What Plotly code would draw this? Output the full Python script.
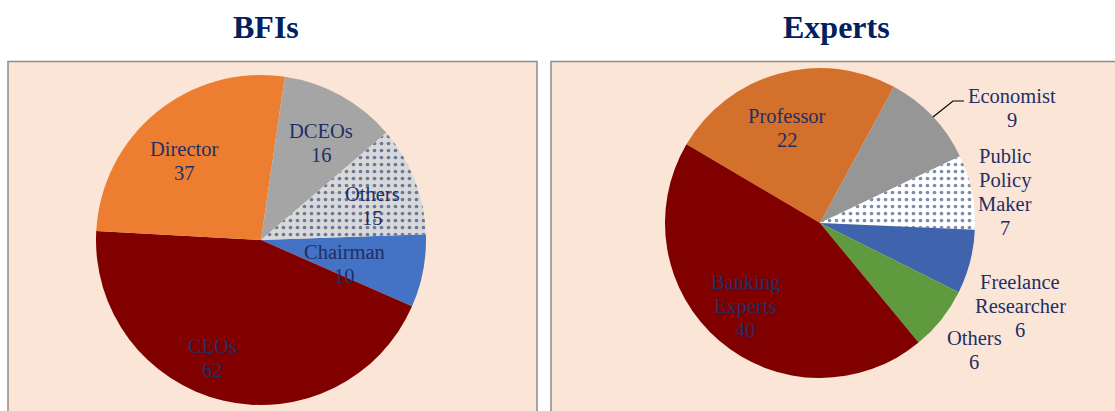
import plotly.graph_objects as go

W, H = 1115, 411

# ---- data ----
bfi_labels = ["Chairman", "CEOs", "Director", "DCEOs", "Others"]
bfi_values = [10, 62, 37, 16, 15]
bfi_colors = ["#4472C4", "#800000", "#ED7D31", "#A5A5A5", "#D9D9D9"]

exp_labels = ["Professor", "Economist", "Public Policy Maker", "Freelance Researcher", "Others", "Banking Experts"]
exp_values = [22, 9, 7, 6, 6, 40]
exp_colors = ["#D2702C", "#969696", "#FFFFFF", "#3F64AD", "#5F9A3E", "#800000"]

titles = ["BFIs", "Experts"]

# ---- label layout (pixel positions of label block centres, line breaks) ----
bfi_label_lines = [["Chairman"], ["CEOs"], ["Director"], ["DCEOs"], ["Others"]]
bfi_label_pos = [(344, 264), (212, 358), (184, 161), (321, 143), (372, 206)]
exp_label_lines = [["Professor"], ["Economist"], ["Public", "Policy", "Maker"],
                   ["Freelance", "Researcher"], ["Others"], ["Banking", "Experts"]]
exp_label_pos = [(787, 128), (1012, 108), (1005, 192), (1020, 306), (974, 350), (745, 306)]
dotted = {"BFIs": "Others", "Experts": "Public Policy Maker"}

LABEL_COLOR = "#1F2F66"
TITLE_COLOR = "#002060"
SERIF = "Liberation Serif, Times New Roman, serif"


def px(x):
    return x / W


def py(y):
    return 1 - y / H


fig = go.Figure()

# panels
for x0, x1 in [(8, 537), (551, 1125)]:
    fig.add_shape(type="rect", xref="paper", yref="paper",
                  x0=px(x0), x1=px(x1), y0=-0.02, y1=py(61.5),
                  fillcolor="#FBE5D6", line=dict(color="#8C8C8C", width=1.5),
                  layer="below")


def pie(labels, values, colors, dotted_label, cx, cy, r, rotation):
    shapes = ["." if l == dotted_label else "" for l in labels]
    return go.Pie(
        labels=labels, values=values, sort=False, direction="clockwise",
        rotation=rotation, textinfo="none", hoverinfo="label+value",
        showlegend=False,
        marker=dict(colors=colors, line=dict(width=0),
                    pattern=dict(shape=shapes, fgcolor="#001A5C",
                                 bgcolor=colors, size=7, solidity=0.22,
                                 fillmode="overlay")),
        domain=dict(x=[px(cx - r), px(cx + r)], y=[py(cy + r), py(cy - r)]),
    )


fig.add_trace(pie(bfi_labels, bfi_values, bfi_colors, dotted["BFIs"], 261, 240, 165, 88))
fig.add_trace(pie(exp_labels, exp_values, exp_colors, dotted["Experts"], 820, 223, 155, 300.5))

# labels
LINE = 24
FS = 20.5
for lines_list, pos_list, values in [
    (bfi_label_lines, bfi_label_pos, bfi_values),
    (exp_label_lines, exp_label_pos, exp_values),
]:
    for lines, (x, y), v in zip(lines_list, pos_list, values):
        all_lines = lines + [str(v)]
        n = len(all_lines)
        for i, t in enumerate(all_lines):
            yy = y + (i - (n - 1) / 2) * LINE
            fig.add_annotation(x=px(x), y=py(yy), xref="paper", yref="paper",
                               text=t, showarrow=False, xanchor="center", yanchor="middle",
                               font=dict(family=SERIF, size=FS, color=LABEL_COLOR))

# leader line for Economist
fig.add_shape(type="path", xref="paper", yref="paper",
              path=f"M {px(933)},{py(117)} L {px(953)},{py(101)} L {px(964)},{py(101)}",
              line=dict(color="#000000", width=1.2))

# titles
for t, x in zip(titles, [266, 836]):
    fig.add_annotation(x=px(x), y=py(27), xref="paper", yref="paper", text=f"<b>{t}</b>",
                       showarrow=False, xanchor="center", yanchor="middle",
                       font=dict(family=SERIF, size=32, color=TITLE_COLOR))

fig.update_layout(width=W, height=H, margin=dict(l=0, r=0, t=0, b=0),
                  paper_bgcolor="white", plot_bgcolor="white")

fig.write_html("out.html", config={"displayModeBar": False},
               post_script="document.body.style.margin='0px';")
